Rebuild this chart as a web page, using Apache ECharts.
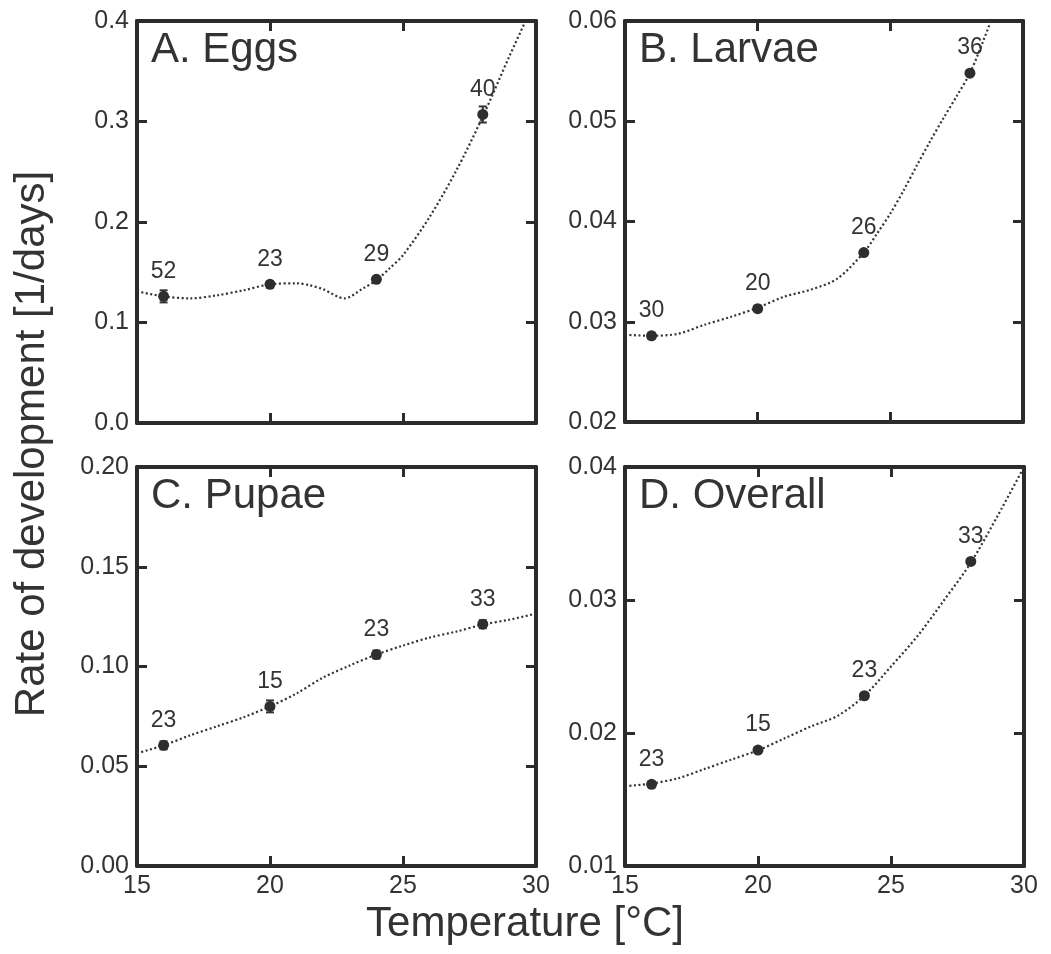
<!DOCTYPE html>
<html>
<head>
<meta charset="utf-8">
<script src="https://cdn.jsdelivr.net/npm/echarts@6/dist/echarts.min.js"></script>
<style>
html,body{margin:0;padding:0;background:#fff;}
#chart{width:1051px;height:954px;}
</style>
</head>
<body>
<div id="chart"></div>
<script>
// ---------- DATA ----------
const temps = [16, 20, 24, 28];
const xTicks = [15, 20, 25, 30];

const eggsRate = [0.126, 0.138, 0.143, 0.307];
const eggsErr = [0.006, 0.003, 0.002, 0.008];
const eggsN = [52, 23, 29, 40];
const eggsCurveT = [15, 16, 17, 18, 19, 20, 21, 21.5, 22, 22.8, 23.5, 24, 24.5, 25, 26, 27, 28, 29, 29.6, 30.2];
const eggsCurveRate = [0.131, 0.126, 0.124, 0.127, 0.132, 0.138, 0.139, 0.137, 0.133, 0.124, 0.134, 0.142, 0.154, 0.167, 0.205, 0.251, 0.305, 0.365, 0.400, 0.44];

const larvaeRate = [0.0286, 0.0313, 0.0369, 0.0548];
const larvaeErr = [0.0003, 0.0003, 0.0002, 0.0003];
const larvaeN = [30, 20, 26, 36];
const larvaeCurveT = [15, 16, 17, 18, 19, 20, 21, 22, 23, 24, 24.5, 25, 25.5, 26, 26.5, 27, 27.5, 28, 28.5, 29];
const larvaeCurveRate = [0.0287, 0.0286, 0.0288, 0.0297, 0.0305, 0.0314, 0.0325, 0.0332, 0.0343, 0.0369, 0.0388, 0.0408, 0.0431, 0.0456, 0.0480, 0.0503, 0.0525, 0.0548, 0.0580, 0.0615];

const pupaeRate = [0.0605, 0.0800, 0.1060, 0.1212];
const pupaeErr = [0.002, 0.003, 0.002, 0.002];
const pupaeN = [23, 15, 23, 33];
const pupaeCurveT = [15, 16, 17, 18, 19, 20, 21, 22, 23, 24, 25, 26, 27, 28, 29, 30];
const pupaeCurveRate = [0.0565, 0.0605, 0.0655, 0.0700, 0.0745, 0.0800, 0.0865, 0.0945, 0.1005, 0.1060, 0.1105, 0.1145, 0.1175, 0.1210, 0.1235, 0.1265];

const overallRate = [0.01614, 0.01872, 0.0228, 0.0329];
const overallErr = [0.0002, 0.0002, 0.0002, 0.0002];
const overallN = [23, 15, 23, 33];
const overallCurveT = [15, 16, 17, 18, 19, 20, 21, 22, 23, 24, 25, 26, 27, 28, 29, 30];
const overallCurveRate = [0.0160, 0.0162, 0.0166, 0.0173, 0.0180, 0.0187, 0.0196, 0.0205, 0.0213, 0.0228, 0.0250, 0.0273, 0.0300, 0.0328, 0.0363, 0.0400];

const panelTitles = ['A. Eggs', 'B. Larvae', 'C. Pupae', 'D. Overall'];
const yMins = [0, 0.02, 0, 0.01];
const yMaxs = [0.4, 0.06, 0.2, 0.04];
const yIntervals = [0.1, 0.01, 0.05, 0.01];
const yDecimals = [1, 2, 2, 2];
const xTitle = 'Temperature [°C]';
const yTitle = 'Rate of development [1/days]';

// ---------- LAYOUT / STYLE ----------
const FONT = "'Liberation Sans', Arial, Helvetica, sans-serif";
const AX = '#2b2b2b';
const TXT = '#333333';
const grids = [
  {left: 137, top: 21, width: 399, height: 402},
  {left: 625, top: 21, width: 398, height: 401},
  {left: 137, top: 467, width: 399, height: 399},
  {left: 625, top: 467, width: 399, height: 399}
];
const panels = [
  {rate: eggsRate, err: eggsErr, n: eggsN, cT: eggsCurveT, cR: eggsCurveRate},
  {rate: larvaeRate, err: larvaeErr, n: larvaeN, cT: larvaeCurveT, cR: larvaeCurveRate},
  {rate: pupaeRate, err: pupaeErr, n: pupaeN, cT: pupaeCurveT, cR: pupaeCurveRate},
  {rate: overallRate, err: overallErr, n: overallN, cT: overallCurveT, cR: overallCurveRate}
];

const xAxes = [], yAxes = [], series = [], graphics = [];
const axisLine = {show: true, onZero: false, lineStyle: {color: AX, width: 4}};
const axisTick = {show: true, inside: true, length: 10, lineStyle: {color: AX, width: 3}};

panels.forEach((p, i) => {
  const showX = i >= 2;
  xAxes.push({
    type: 'value', gridIndex: i, position: 'bottom', min: 15, max: 30, interval: 5,
    axisLine, axisTick, splitLine: {show: false},
    axisLabel: {show: showX, color: TXT, fontSize: 25, fontFamily: FONT, margin: 8}
  });
  xAxes.push({
    type: 'value', gridIndex: i, position: 'top', min: 15, max: 30, interval: 5,
    axisLine, axisTick, splitLine: {show: false}, axisLabel: {show: false}
  });
  const dec = yDecimals[i];
  yAxes.push({
    type: 'value', gridIndex: i, position: 'left', min: yMins[i], max: yMaxs[i], interval: yIntervals[i],
    axisLine, axisTick, splitLine: {show: false},
    axisLabel: {color: TXT, fontSize: 25, fontFamily: FONT, margin: 8,
      formatter: v => Number(v).toFixed(dec)}
  });
  yAxes.push({
    type: 'value', gridIndex: i, position: 'right', min: yMins[i], max: yMaxs[i], interval: yIntervals[i],
    axisLine, axisTick, splitLine: {show: false}, axisLabel: {show: false}
  });
  const xa = i * 2, ya = i * 2;
  series.push({
    type: 'line', xAxisIndex: xa, yAxisIndex: ya, smooth: 0.3, symbol: 'none', clip: true,
    lineStyle: {color: '#333', width: 2.2, type: [2, 2.5]},
    data: p.cT.map((t, k) => [t, p.cR[k]]), z: 2, silent: true
  });
  series.push({
    type: 'custom', xAxisIndex: xa, yAxisIndex: ya, z: 3, silent: true,
    data: temps.map((t, k) => [t, p.rate[k] - p.err[k], p.rate[k] + p.err[k]]),
    renderItem: (params, api) => {
      const lo = api.coord([api.value(0), api.value(1)]);
      const hi = api.coord([api.value(0), api.value(2)]);
      const w = 4;
      const st = {stroke: '#333', lineWidth: 2};
      return {type: 'group', children: [
        {type: 'line', shape: {x1: lo[0], y1: lo[1], x2: hi[0], y2: hi[1]}, style: st},
        {type: 'line', shape: {x1: lo[0] - w, y1: lo[1], x2: lo[0] + w, y2: lo[1]}, style: st},
        {type: 'line', shape: {x1: hi[0] - w, y1: hi[1], x2: hi[0] + w, y2: hi[1]}, style: st}
      ]};
    }
  });
  series.push({
    type: 'scatter', xAxisIndex: xa, yAxisIndex: ya, z: 4, symbolSize: 11, silent: true,
    itemStyle: {color: '#2e2e2e', opacity: 1},
    data: temps.map((t, k) => ({value: [t, p.rate[k]], label: {formatter: String(p.n[k])}})),
    label: {show: true, position: 'top', distance: 8, color: TXT, fontSize: 23, fontFamily: FONT}
  });
  graphics.push({
    type: 'text', left: grids[i].left + 14, top: grids[i].top + 8,
    style: {text: panelTitles[i], font: '42px ' + FONT, fill: TXT}
  });
});

graphics.push({
  type: 'text', x: 32, y: 444, rotation: Math.PI / 2,
  style: {text: yTitle, font: '42px ' + FONT, fill: TXT, align: 'center', verticalAlign: 'middle'}
});
graphics.push({
  type: 'text', x: 525, y: 924,
  style: {text: xTitle, font: '42px ' + FONT, fill: TXT, align: 'center', verticalAlign: 'middle'}
});

const chart = echarts.init(document.getElementById('chart'), null, {renderer: 'canvas'});
chart.setOption({
  animation: false,
  backgroundColor: '#fff',
  grid: grids.map(g => Object.assign({containLabel: false}, g)),
  xAxis: xAxes,
  yAxis: yAxes,
  series: series,
  graphic: graphics
});
</script>
</body>
</html>
